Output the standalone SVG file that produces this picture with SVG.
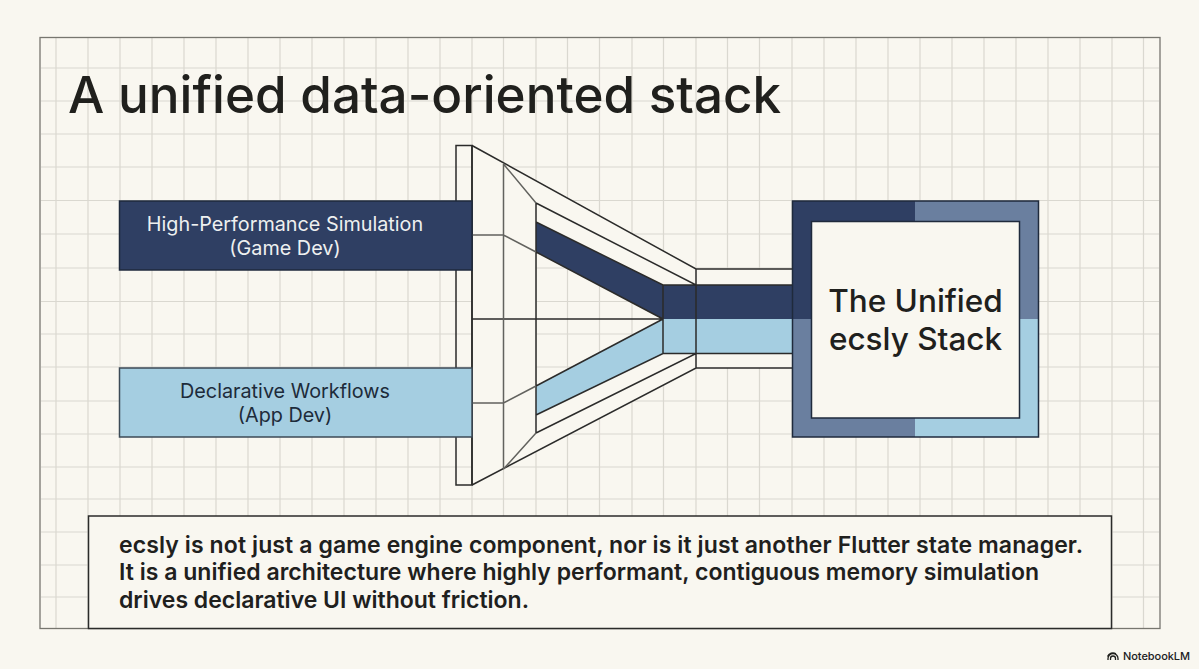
<svg xmlns="http://www.w3.org/2000/svg" xmlns:xlink="http://www.w3.org/1999/xlink" width="1199" height="669" viewBox="0 0 1199 669">
<style>
text{font-family:Inter,"Liberation Sans",sans-serif;fill:#20201d}
.g{stroke:#dad8d0;stroke-width:1.2;fill:none}
.l{stroke:#2b2b2a;stroke-width:1.5;fill:none}
.t{stroke:#62625e;stroke-width:1.5;fill:none}
.s{stroke:#1f2a3c;stroke-width:1.5}
.c{text-anchor:middle}
</style>
<defs>
<path id="grid" class="g" d="M56 38V628M88 38V628M120 38V628M152 38V628M184 38V628M216 38V628M248 38V628M280 38V628M312 38V628M344 38V628M376 38V628M408 38V628M440 38V628M472 38V628M503.500 38V628M536 38V628M567.500 38V628M599.500 38V628M632 38V628M663.500 38V628M696 38V628M727.500 38V628M759.500 38V628M792 38V628M824 38V628M856 38V628M888 38V628M920 38V628M952 38V628M984 38V628M1016 38V628M1048 38V628M1080 38V628M1112 38V628M1143.500 38V628M41 68H1159M41 101H1159M41 134H1159M41 167H1159M41 200.500H1159M41 234H1159M41 268H1159M41 301.500H1159M41 334H1159M41 367H1159M41 401H1159M41 434H1159M41 467H1159M41 499H1159M41 532H1159M41 565H1159M41 597H1159"/>
<clipPath id="inner"><polygon points="536,252 663,319 536,386"/></clipPath>
</defs>
<rect width="1199" height="669" fill="#f9f7f0"/>
<use href="#grid"/>
<rect x="40" y="37.500" width="1120" height="591" fill="none" stroke="#77766f" stroke-width="1.3"/>
<g id="title"><text x="68" y="113" font-size="51.200" font-weight="500">A unified data-oriented stack</text></g>
<g id="connectors">
<polygon points="472,145 696,269 792,269 792,368 696,368 472,485" fill="#f9f7f0"/>
<use href="#grid" clip-path="url(#inner)"/>
<rect x="456" y="145.500" width="16" height="339.500" class="l"/>
<polygon points="536,222 663,285 792,285 792,319 663,319 536,252" fill="#2f3f63"/>
<polygon points="536,386 663,319 792,319 792,353.500 663,353.500 536,415" fill="#a5cee1"/>
<path class="l" d="M472 145.500L696 269H792M472 485L696 368H792M536 203L696 285H792M536 433L696 353.500H792M536 222L663 285H696M536 252L663 319M536 386L663 319M536 415L663 353.500H696M663 285V353.500M696 269V368M536 203V433M472 145V485M472 319H663"/>
<path class="t" d="M503.500 164V469M503.500 164L536 203M503.500 469L536 433M472 235H503.500L536 252M472 403H503.500L536 386"/>
</g>
<g id="node-high-performance">
<rect x="119.500" y="201" width="352.500" height="69" fill="#2f3f63" class="s"/>
<text x="285" y="231" font-size="19.800" class="c" style="fill:#eef0f0">High-Performance Simulation</text>
<text x="285" y="255" font-size="19.800" class="c" style="fill:#eef0f0">(Game Dev)</text>
</g>
<g id="node-declarative">
<rect x="119.500" y="368" width="352.500" height="69" fill="#a5cee1" stroke="#3c4a55" stroke-width="1.500"/>
<text x="285" y="398" font-size="19.800" class="c" style="fill:#1d2b3a">Declarative Workflows</text>
<text x="285" y="422" font-size="19.800" class="c" style="fill:#1d2b3a">(App Dev)</text>
</g>
<g id="node-unified-stack">
<rect x="792" y="201" width="123" height="118" fill="#2f3f63"/>
<rect x="915" y="201" width="124" height="118" fill="#6a7f9f"/>
<rect x="792" y="319" width="123" height="118" fill="#6a7f9f"/>
<rect x="915" y="319" width="124" height="118" fill="#a5cee1"/>
<rect x="792.500" y="201" width="246" height="236" fill="none" class="s"/>
<rect x="811.500" y="221.500" width="208" height="196.500" fill="#f9f7f0" class="s"/>
<text x="915.500" y="312" font-size="31.500" class="c" font-weight="500">The Unified</text>
<text x="915.500" y="350" font-size="31.500" class="c" font-weight="500">ecsly Stack</text>
</g>
<g id="note">
<rect x="88.500" y="516" width="1023" height="112.500" fill="#f9f7f0" stroke="#2b2b2a" stroke-width="1.500"/>
<text x="119" y="553" font-size="23" font-weight="600" textLength="964">ecsly is not just a game engine component, nor is it just another Flutter state manager.</text>
<text x="119" y="580" font-size="23" font-weight="600" textLength="920">It is a unified architecture where highly performant, contiguous memory simulation</text>
<text x="119" y="608" font-size="23" font-weight="600" textLength="410">drives declarative UI without friction.</text>
</g>
<g id="badge">
<path d="M1108 660V658.500A5 5 0 0 1 1118 658.500V660M1110.500 660V658.500A2.500 2.500 0 0 1 1115.500 658.500V660M1107.500 656.500A5.800 5.800 0 0 1 1116 653.800" fill="none" stroke="#20201d" stroke-width="1.300"/>
<text x="1123" y="660" font-size="11" font-weight="500" textLength="67">NotebookLM</text>
</g>
</svg>
